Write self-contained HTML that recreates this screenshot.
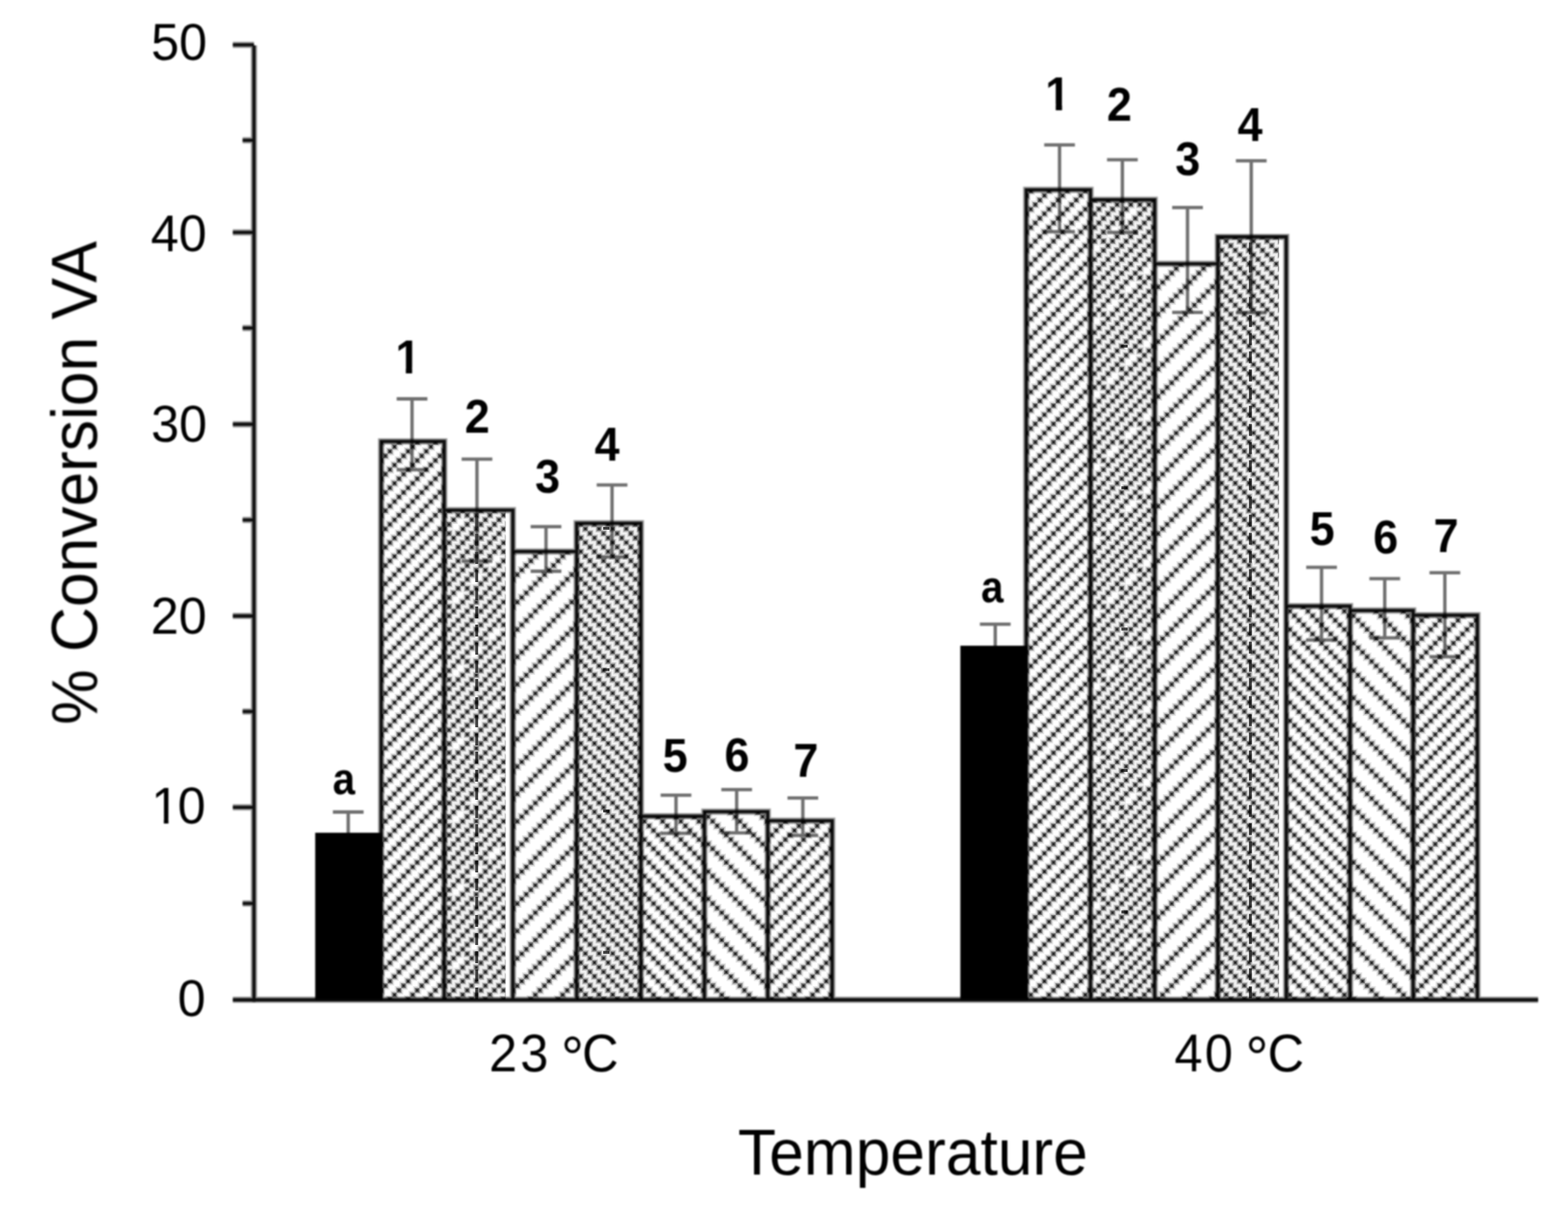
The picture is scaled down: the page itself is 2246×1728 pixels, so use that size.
<!DOCTYPE html>
<html lang="en"><head><meta charset="utf-8"><title>% Conversion VA vs Temperature</title>
<style>
html,body{margin:0;padding:0;background:#fff;width:2246px;height:1728px;overflow:hidden}
svg{display:block;position:absolute;left:0;top:0}
text{font-family:"Liberation Sans",sans-serif;fill:#000}
.tk{font-size:72px}
.ct{font-size:72.3px}
.dg{font-size:81.5px}
.ti{font-size:89.3px}
.lb{font-size:67px;font-weight:bold}
</style></head><body>
<svg width="2246" height="1728" viewBox="0 0 2246 1728">
<defs>
<filter id="soft" x="-2%" y="-2%" width="104%" height="104%"><feGaussianBlur stdDeviation="0.85"/></filter>
<filter id="softp" x="-2%" y="-2%" width="104%" height="104%"><feGaussianBlur stdDeviation="0.75"/></filter>
<filter id="softt" x="-2%" y="-2%" width="104%" height="104%"><feGaussianBlur stdDeviation="1.15"/></filter>
<pattern id="f4" patternUnits="userSpaceOnUse" width="26.04" height="26.18" x="1.95" y="2">
<path d="M3.58 -16.04h12.37v12.44h-12.37zM29.62 -16.04h12.37v12.44h-12.37zM-2.93 -9.49h12.37v12.44h-12.37zM23.11 -9.49h12.37v12.44h-12.37zM-9.44 -2.95h12.37v12.44h-12.37zM16.6 -2.95h12.37v12.44h-12.37zM-15.95 3.6h12.37v12.44h-12.37zM10.09 3.6h12.37v12.44h-12.37zM3.58 10.14h12.37v12.44h-12.37zM29.62 10.14h12.37v12.44h-12.37zM-2.93 16.69h12.37v12.44h-12.37zM23.11 16.69h12.37v12.44h-12.37zM-9.44 23.23h12.37v12.44h-12.37zM16.6 23.23h12.37v12.44h-12.37zM-15.95 29.78h12.37v12.44h-12.37zM10.09 29.78h12.37v12.44h-12.37z" fill="#000" fill-opacity="0.09"/>
<path d="M5.21 -14.4h9.11v9.16h-9.11zM31.25 -14.4h9.11v9.16h-9.11zM-1.3 -7.85h9.11v9.16h-9.11zM24.74 -7.85h9.11v9.16h-9.11zM-7.81 -1.31h9.11v9.16h-9.11zM18.23 -1.31h9.11v9.16h-9.11zM-14.32 5.24h9.11v9.16h-9.11zM11.72 5.24h9.11v9.16h-9.11zM5.21 11.78h9.11v9.16h-9.11zM31.25 11.78h9.11v9.16h-9.11zM-1.3 18.33h9.11v9.16h-9.11zM24.74 18.33h9.11v9.16h-9.11zM-7.81 24.87h9.11v9.16h-9.11zM18.23 24.87h9.11v9.16h-9.11zM-14.32 31.42h9.11v9.16h-9.11zM11.72 31.42h9.11v9.16h-9.11z" fill="#000" fill-opacity="0.2"/>
<path d="M6.51 -13.09h6.51v6.54h-6.51zM32.55 -13.09h6.51v6.54h-6.51zM0 -6.54h6.51v6.54h-6.51zM26.04 -6.54h6.51v6.54h-6.51zM-6.51 0h6.51v6.54h-6.51zM19.53 0h6.51v6.54h-6.51zM-13.02 6.54h6.51v6.54h-6.51zM13.02 6.54h6.51v6.54h-6.51zM6.51 13.09h6.51v6.54h-6.51zM32.55 13.09h6.51v6.54h-6.51zM0 19.63h6.51v6.54h-6.51zM26.04 19.63h6.51v6.54h-6.51zM-6.51 26.18h6.51v6.54h-6.51zM19.53 26.18h6.51v6.54h-6.51zM-13.02 32.73h6.51v6.54h-6.51zM13.02 32.73h6.51v6.54h-6.51z" fill="#000" fill-opacity="0.36"/>
<path d="M7.81 -11.78h3.91v3.93h-3.91zM33.85 -11.78h3.91v3.93h-3.91zM1.3 -5.24h3.91v3.93h-3.91zM27.34 -5.24h3.91v3.93h-3.91zM-5.21 1.31h3.91v3.93h-3.91zM20.83 1.31h3.91v3.93h-3.91zM-11.72 7.85h3.91v3.93h-3.91zM14.32 7.85h3.91v3.93h-3.91zM7.81 14.4h3.91v3.93h-3.91zM33.85 14.4h3.91v3.93h-3.91zM1.3 20.94h3.91v3.93h-3.91zM27.34 20.94h3.91v3.93h-3.91zM-5.21 27.49h3.91v3.93h-3.91zM20.83 27.49h3.91v3.93h-3.91zM-11.72 34.03h3.91v3.93h-3.91zM14.32 34.03h3.91v3.93h-3.91z" fill="#000" fill-opacity="0.5"/>
<path d="M8.79 -10.8h1.95v1.96h-1.95zM34.83 -10.8h1.95v1.96h-1.95zM2.28 -4.25h1.95v1.96h-1.95zM28.32 -4.25h1.95v1.96h-1.95zM-4.23 2.29h1.95v1.96h-1.95zM21.81 2.29h1.95v1.96h-1.95zM-10.74 8.84h1.95v1.96h-1.95zM15.3 8.84h1.95v1.96h-1.95zM8.79 15.38h1.95v1.96h-1.95zM34.83 15.38h1.95v1.96h-1.95zM2.28 21.93h1.95v1.96h-1.95zM28.32 21.93h1.95v1.96h-1.95zM-4.23 28.47h1.95v1.96h-1.95zM21.81 28.47h1.95v1.96h-1.95zM-10.74 35.02h1.95v1.96h-1.95zM15.3 35.02h1.95v1.96h-1.95z" fill="#000" fill-opacity="0.5"/>
</pattern>
<pattern id="f25" patternUnits="userSpaceOnUse" width="104.16" height="104.72" x="1.95" y="2">
<path d="M-2.93 -16.04h12.37v12.44h-12.37zM16.6 -16.04h12.37v12.44h-12.37zM36.13 -16.04h12.37v12.44h-12.37zM62.17 -16.04h12.37v12.44h-12.37zM81.7 -16.04h12.37v12.44h-12.37zM101.23 -16.04h12.37v12.44h-12.37zM-9.44 -9.49h12.37v12.44h-12.37zM10.09 -9.49h12.37v12.44h-12.37zM29.62 -9.49h12.37v12.44h-12.37zM55.66 -9.49h12.37v12.44h-12.37zM75.19 -9.49h12.37v12.44h-12.37zM94.72 -9.49h12.37v12.44h-12.37zM-15.95 -2.95h12.37v12.44h-12.37zM3.58 -2.95h12.37v12.44h-12.37zM23.11 -2.95h12.37v12.44h-12.37zM36.13 -2.95h12.37v12.44h-12.37zM49.15 -2.95h12.37v12.44h-12.37zM68.68 -2.95h12.37v12.44h-12.37zM88.21 -2.95h12.37v12.44h-12.37zM107.74 -2.95h12.37v12.44h-12.37zM-2.93 3.6h12.37v12.44h-12.37zM16.6 3.6h12.37v12.44h-12.37zM42.64 3.6h12.37v12.44h-12.37zM62.17 3.6h12.37v12.44h-12.37zM81.7 3.6h12.37v12.44h-12.37zM101.23 3.6h12.37v12.44h-12.37zM-9.44 10.14h12.37v12.44h-12.37zM10.09 10.14h12.37v12.44h-12.37zM36.13 10.14h12.37v12.44h-12.37zM55.66 10.14h12.37v12.44h-12.37zM75.19 10.14h12.37v12.44h-12.37zM94.72 10.14h12.37v12.44h-12.37zM-15.95 16.69h12.37v12.44h-12.37zM3.58 16.69h12.37v12.44h-12.37zM29.62 16.69h12.37v12.44h-12.37zM49.15 16.69h12.37v12.44h-12.37zM68.68 16.69h12.37v12.44h-12.37zM88.21 16.69h12.37v12.44h-12.37zM107.74 16.69h12.37v12.44h-12.37zM-2.93 23.23h12.37v12.44h-12.37zM10.09 23.23h12.37v12.44h-12.37zM23.11 23.23h12.37v12.44h-12.37zM42.64 23.23h12.37v12.44h-12.37zM62.17 23.23h12.37v12.44h-12.37zM81.7 23.23h12.37v12.44h-12.37zM101.23 23.23h12.37v12.44h-12.37zM-9.44 29.78h12.37v12.44h-12.37zM16.6 29.78h12.37v12.44h-12.37zM36.13 29.78h12.37v12.44h-12.37zM55.66 29.78h12.37v12.44h-12.37zM75.19 29.78h12.37v12.44h-12.37zM94.72 29.78h12.37v12.44h-12.37zM-15.95 36.32h12.37v12.44h-12.37zM10.09 36.32h12.37v12.44h-12.37zM29.62 36.32h12.37v12.44h-12.37zM49.15 36.32h12.37v12.44h-12.37zM68.68 36.32h12.37v12.44h-12.37zM88.21 36.32h12.37v12.44h-12.37zM3.58 42.87h12.37v12.44h-12.37zM23.11 42.87h12.37v12.44h-12.37zM42.64 42.87h12.37v12.44h-12.37zM62.17 42.87h12.37v12.44h-12.37zM81.7 42.87h12.37v12.44h-12.37zM107.74 42.87h12.37v12.44h-12.37zM-15.95 49.41h12.37v12.44h-12.37zM-2.93 49.41h12.37v12.44h-12.37zM16.6 49.41h12.37v12.44h-12.37zM36.13 49.41h12.37v12.44h-12.37zM55.66 49.41h12.37v12.44h-12.37zM75.19 49.41h12.37v12.44h-12.37zM88.21 49.41h12.37v12.44h-12.37zM101.23 49.41h12.37v12.44h-12.37zM-9.44 55.96h12.37v12.44h-12.37zM10.09 55.96h12.37v12.44h-12.37zM29.62 55.96h12.37v12.44h-12.37zM49.15 55.96h12.37v12.44h-12.37zM68.68 55.96h12.37v12.44h-12.37zM94.72 55.96h12.37v12.44h-12.37zM-15.95 62.5h12.37v12.44h-12.37zM3.58 62.5h12.37v12.44h-12.37zM23.11 62.5h12.37v12.44h-12.37zM42.64 62.5h12.37v12.44h-12.37zM62.17 62.5h12.37v12.44h-12.37zM88.21 62.5h12.37v12.44h-12.37zM107.74 62.5h12.37v12.44h-12.37zM-2.93 69.05h12.37v12.44h-12.37zM16.6 69.05h12.37v12.44h-12.37zM36.13 69.05h12.37v12.44h-12.37zM55.66 69.05h12.37v12.44h-12.37zM81.7 69.05h12.37v12.44h-12.37zM101.23 69.05h12.37v12.44h-12.37zM-9.44 75.59h12.37v12.44h-12.37zM10.09 75.59h12.37v12.44h-12.37zM29.62 75.59h12.37v12.44h-12.37zM49.15 75.59h12.37v12.44h-12.37zM62.17 75.59h12.37v12.44h-12.37zM75.19 75.59h12.37v12.44h-12.37zM94.72 75.59h12.37v12.44h-12.37zM-15.95 82.14h12.37v12.44h-12.37zM3.58 82.14h12.37v12.44h-12.37zM23.11 82.14h12.37v12.44h-12.37zM42.64 82.14h12.37v12.44h-12.37zM68.68 82.14h12.37v12.44h-12.37zM88.21 82.14h12.37v12.44h-12.37zM107.74 82.14h12.37v12.44h-12.37zM-2.93 88.68h12.37v12.44h-12.37zM16.6 88.68h12.37v12.44h-12.37zM36.13 88.68h12.37v12.44h-12.37zM62.17 88.68h12.37v12.44h-12.37zM81.7 88.68h12.37v12.44h-12.37zM101.23 88.68h12.37v12.44h-12.37zM-9.44 95.23h12.37v12.44h-12.37zM10.09 95.23h12.37v12.44h-12.37zM29.62 95.23h12.37v12.44h-12.37zM55.66 95.23h12.37v12.44h-12.37zM75.19 95.23h12.37v12.44h-12.37zM94.72 95.23h12.37v12.44h-12.37zM-15.95 101.77h12.37v12.44h-12.37zM3.58 101.77h12.37v12.44h-12.37zM23.11 101.77h12.37v12.44h-12.37zM36.13 101.77h12.37v12.44h-12.37zM49.15 101.77h12.37v12.44h-12.37zM68.68 101.77h12.37v12.44h-12.37zM88.21 101.77h12.37v12.44h-12.37zM107.74 101.77h12.37v12.44h-12.37zM-2.93 108.32h12.37v12.44h-12.37zM16.6 108.32h12.37v12.44h-12.37zM42.64 108.32h12.37v12.44h-12.37zM62.17 108.32h12.37v12.44h-12.37zM81.7 108.32h12.37v12.44h-12.37zM101.23 108.32h12.37v12.44h-12.37z" fill="#000" fill-opacity="0.09"/>
<path d="M-1.3 -14.4h9.11v9.16h-9.11zM18.23 -14.4h9.11v9.16h-9.11zM37.76 -14.4h9.11v9.16h-9.11zM63.8 -14.4h9.11v9.16h-9.11zM83.33 -14.4h9.11v9.16h-9.11zM102.86 -14.4h9.11v9.16h-9.11zM-7.81 -7.85h9.11v9.16h-9.11zM11.72 -7.85h9.11v9.16h-9.11zM31.25 -7.85h9.11v9.16h-9.11zM57.29 -7.85h9.11v9.16h-9.11zM76.82 -7.85h9.11v9.16h-9.11zM96.35 -7.85h9.11v9.16h-9.11zM-14.32 -1.31h9.11v9.16h-9.11zM5.21 -1.31h9.11v9.16h-9.11zM24.74 -1.31h9.11v9.16h-9.11zM37.76 -1.31h9.11v9.16h-9.11zM50.78 -1.31h9.11v9.16h-9.11zM70.31 -1.31h9.11v9.16h-9.11zM89.84 -1.31h9.11v9.16h-9.11zM109.37 -1.31h9.11v9.16h-9.11zM-1.3 5.24h9.11v9.16h-9.11zM18.23 5.24h9.11v9.16h-9.11zM44.27 5.24h9.11v9.16h-9.11zM63.8 5.24h9.11v9.16h-9.11zM83.33 5.24h9.11v9.16h-9.11zM102.86 5.24h9.11v9.16h-9.11zM-7.81 11.78h9.11v9.16h-9.11zM11.72 11.78h9.11v9.16h-9.11zM37.76 11.78h9.11v9.16h-9.11zM57.29 11.78h9.11v9.16h-9.11zM76.82 11.78h9.11v9.16h-9.11zM96.35 11.78h9.11v9.16h-9.11zM-14.32 18.33h9.11v9.16h-9.11zM5.21 18.33h9.11v9.16h-9.11zM31.25 18.33h9.11v9.16h-9.11zM50.78 18.33h9.11v9.16h-9.11zM70.31 18.33h9.11v9.16h-9.11zM89.84 18.33h9.11v9.16h-9.11zM109.37 18.33h9.11v9.16h-9.11zM-1.3 24.87h9.11v9.16h-9.11zM11.72 24.87h9.11v9.16h-9.11zM24.74 24.87h9.11v9.16h-9.11zM44.27 24.87h9.11v9.16h-9.11zM63.8 24.87h9.11v9.16h-9.11zM83.33 24.87h9.11v9.16h-9.11zM102.86 24.87h9.11v9.16h-9.11zM-7.81 31.42h9.11v9.16h-9.11zM18.23 31.42h9.11v9.16h-9.11zM37.76 31.42h9.11v9.16h-9.11zM57.29 31.42h9.11v9.16h-9.11zM76.82 31.42h9.11v9.16h-9.11zM96.35 31.42h9.11v9.16h-9.11zM-14.32 37.96h9.11v9.16h-9.11zM11.72 37.96h9.11v9.16h-9.11zM31.25 37.96h9.11v9.16h-9.11zM50.78 37.96h9.11v9.16h-9.11zM70.31 37.96h9.11v9.16h-9.11zM89.84 37.96h9.11v9.16h-9.11zM5.21 44.51h9.11v9.16h-9.11zM24.74 44.51h9.11v9.16h-9.11zM44.27 44.51h9.11v9.16h-9.11zM63.8 44.51h9.11v9.16h-9.11zM83.33 44.51h9.11v9.16h-9.11zM109.37 44.51h9.11v9.16h-9.11zM-14.32 51.05h9.11v9.16h-9.11zM-1.3 51.05h9.11v9.16h-9.11zM18.23 51.05h9.11v9.16h-9.11zM37.76 51.05h9.11v9.16h-9.11zM57.29 51.05h9.11v9.16h-9.11zM76.82 51.05h9.11v9.16h-9.11zM89.84 51.05h9.11v9.16h-9.11zM102.86 51.05h9.11v9.16h-9.11zM-7.81 57.6h9.11v9.16h-9.11zM11.72 57.6h9.11v9.16h-9.11zM31.25 57.6h9.11v9.16h-9.11zM50.78 57.6h9.11v9.16h-9.11zM70.31 57.6h9.11v9.16h-9.11zM96.35 57.6h9.11v9.16h-9.11zM-14.32 64.14h9.11v9.16h-9.11zM5.21 64.14h9.11v9.16h-9.11zM24.74 64.14h9.11v9.16h-9.11zM44.27 64.14h9.11v9.16h-9.11zM63.8 64.14h9.11v9.16h-9.11zM89.84 64.14h9.11v9.16h-9.11zM109.37 64.14h9.11v9.16h-9.11zM-1.3 70.69h9.11v9.16h-9.11zM18.23 70.69h9.11v9.16h-9.11zM37.76 70.69h9.11v9.16h-9.11zM57.29 70.69h9.11v9.16h-9.11zM83.33 70.69h9.11v9.16h-9.11zM102.86 70.69h9.11v9.16h-9.11zM-7.81 77.23h9.11v9.16h-9.11zM11.72 77.23h9.11v9.16h-9.11zM31.25 77.23h9.11v9.16h-9.11zM50.78 77.23h9.11v9.16h-9.11zM63.8 77.23h9.11v9.16h-9.11zM76.82 77.23h9.11v9.16h-9.11zM96.35 77.23h9.11v9.16h-9.11zM-14.32 83.78h9.11v9.16h-9.11zM5.21 83.78h9.11v9.16h-9.11zM24.74 83.78h9.11v9.16h-9.11zM44.27 83.78h9.11v9.16h-9.11zM70.31 83.78h9.11v9.16h-9.11zM89.84 83.78h9.11v9.16h-9.11zM109.37 83.78h9.11v9.16h-9.11zM-1.3 90.32h9.11v9.16h-9.11zM18.23 90.32h9.11v9.16h-9.11zM37.76 90.32h9.11v9.16h-9.11zM63.8 90.32h9.11v9.16h-9.11zM83.33 90.32h9.11v9.16h-9.11zM102.86 90.32h9.11v9.16h-9.11zM-7.81 96.87h9.11v9.16h-9.11zM11.72 96.87h9.11v9.16h-9.11zM31.25 96.87h9.11v9.16h-9.11zM57.29 96.87h9.11v9.16h-9.11zM76.82 96.87h9.11v9.16h-9.11zM96.35 96.87h9.11v9.16h-9.11zM-14.32 103.41h9.11v9.16h-9.11zM5.21 103.41h9.11v9.16h-9.11zM24.74 103.41h9.11v9.16h-9.11zM37.76 103.41h9.11v9.16h-9.11zM50.78 103.41h9.11v9.16h-9.11zM70.31 103.41h9.11v9.16h-9.11zM89.84 103.41h9.11v9.16h-9.11zM109.37 103.41h9.11v9.16h-9.11zM-1.3 109.96h9.11v9.16h-9.11zM18.23 109.96h9.11v9.16h-9.11zM44.27 109.96h9.11v9.16h-9.11zM63.8 109.96h9.11v9.16h-9.11zM83.33 109.96h9.11v9.16h-9.11zM102.86 109.96h9.11v9.16h-9.11z" fill="#000" fill-opacity="0.2"/>
<path d="M0 -13.09h6.51v6.54h-6.51zM19.53 -13.09h6.51v6.54h-6.51zM39.06 -13.09h6.51v6.54h-6.51zM65.1 -13.09h6.51v6.54h-6.51zM84.63 -13.09h6.51v6.54h-6.51zM104.16 -13.09h6.51v6.54h-6.51zM-6.51 -6.54h6.51v6.54h-6.51zM13.02 -6.54h6.51v6.54h-6.51zM32.55 -6.54h6.51v6.54h-6.51zM58.59 -6.54h6.51v6.54h-6.51zM78.12 -6.54h6.51v6.54h-6.51zM97.65 -6.54h6.51v6.54h-6.51zM-13.02 0h6.51v6.54h-6.51zM6.51 0h6.51v6.54h-6.51zM26.04 0h6.51v6.54h-6.51zM39.06 0h6.51v6.54h-6.51zM52.08 0h6.51v6.54h-6.51zM71.61 0h6.51v6.54h-6.51zM91.14 0h6.51v6.54h-6.51zM110.67 0h6.51v6.54h-6.51zM0 6.54h6.51v6.54h-6.51zM19.53 6.54h6.51v6.54h-6.51zM45.57 6.54h6.51v6.54h-6.51zM65.1 6.54h6.51v6.54h-6.51zM84.63 6.54h6.51v6.54h-6.51zM104.16 6.54h6.51v6.54h-6.51zM-6.51 13.09h6.51v6.54h-6.51zM13.02 13.09h6.51v6.54h-6.51zM39.06 13.09h6.51v6.54h-6.51zM58.59 13.09h6.51v6.54h-6.51zM78.12 13.09h6.51v6.54h-6.51zM97.65 13.09h6.51v6.54h-6.51zM-13.02 19.63h6.51v6.54h-6.51zM6.51 19.63h6.51v6.54h-6.51zM32.55 19.63h6.51v6.54h-6.51zM52.08 19.63h6.51v6.54h-6.51zM71.61 19.63h6.51v6.54h-6.51zM91.14 19.63h6.51v6.54h-6.51zM110.67 19.63h6.51v6.54h-6.51zM0 26.18h6.51v6.54h-6.51zM13.02 26.18h6.51v6.54h-6.51zM26.04 26.18h6.51v6.54h-6.51zM45.57 26.18h6.51v6.54h-6.51zM65.1 26.18h6.51v6.54h-6.51zM84.63 26.18h6.51v6.54h-6.51zM104.16 26.18h6.51v6.54h-6.51zM-6.51 32.73h6.51v6.54h-6.51zM19.53 32.73h6.51v6.54h-6.51zM39.06 32.73h6.51v6.54h-6.51zM58.59 32.73h6.51v6.54h-6.51zM78.12 32.73h6.51v6.54h-6.51zM97.65 32.73h6.51v6.54h-6.51zM-13.02 39.27h6.51v6.54h-6.51zM13.02 39.27h6.51v6.54h-6.51zM32.55 39.27h6.51v6.54h-6.51zM52.08 39.27h6.51v6.54h-6.51zM71.61 39.27h6.51v6.54h-6.51zM91.14 39.27h6.51v6.54h-6.51zM6.51 45.81h6.51v6.54h-6.51zM26.04 45.81h6.51v6.54h-6.51zM45.57 45.81h6.51v6.54h-6.51zM65.1 45.81h6.51v6.54h-6.51zM84.63 45.81h6.51v6.54h-6.51zM110.67 45.81h6.51v6.54h-6.51zM-13.02 52.36h6.51v6.54h-6.51zM0 52.36h6.51v6.54h-6.51zM19.53 52.36h6.51v6.54h-6.51zM39.06 52.36h6.51v6.54h-6.51zM58.59 52.36h6.51v6.54h-6.51zM78.12 52.36h6.51v6.54h-6.51zM91.14 52.36h6.51v6.54h-6.51zM104.16 52.36h6.51v6.54h-6.51zM-6.51 58.91h6.51v6.54h-6.51zM13.02 58.91h6.51v6.54h-6.51zM32.55 58.91h6.51v6.54h-6.51zM52.08 58.91h6.51v6.54h-6.51zM71.61 58.91h6.51v6.54h-6.51zM97.65 58.91h6.51v6.54h-6.51zM-13.02 65.45h6.51v6.54h-6.51zM6.51 65.45h6.51v6.54h-6.51zM26.04 65.45h6.51v6.54h-6.51zM45.57 65.45h6.51v6.54h-6.51zM65.1 65.45h6.51v6.54h-6.51zM91.14 65.45h6.51v6.54h-6.51zM110.67 65.45h6.51v6.54h-6.51zM0 72h6.51v6.54h-6.51zM19.53 72h6.51v6.54h-6.51zM39.06 72h6.51v6.54h-6.51zM58.59 72h6.51v6.54h-6.51zM84.63 72h6.51v6.54h-6.51zM104.16 72h6.51v6.54h-6.51zM-6.51 78.54h6.51v6.54h-6.51zM13.02 78.54h6.51v6.54h-6.51zM32.55 78.54h6.51v6.54h-6.51zM52.08 78.54h6.51v6.54h-6.51zM65.1 78.54h6.51v6.54h-6.51zM78.12 78.54h6.51v6.54h-6.51zM97.65 78.54h6.51v6.54h-6.51zM-13.02 85.09h6.51v6.54h-6.51zM6.51 85.09h6.51v6.54h-6.51zM26.04 85.09h6.51v6.54h-6.51zM45.57 85.09h6.51v6.54h-6.51zM71.61 85.09h6.51v6.54h-6.51zM91.14 85.09h6.51v6.54h-6.51zM110.67 85.09h6.51v6.54h-6.51zM0 91.63h6.51v6.54h-6.51zM19.53 91.63h6.51v6.54h-6.51zM39.06 91.63h6.51v6.54h-6.51zM65.1 91.63h6.51v6.54h-6.51zM84.63 91.63h6.51v6.54h-6.51zM104.16 91.63h6.51v6.54h-6.51zM-6.51 98.18h6.51v6.54h-6.51zM13.02 98.18h6.51v6.54h-6.51zM32.55 98.18h6.51v6.54h-6.51zM58.59 98.18h6.51v6.54h-6.51zM78.12 98.18h6.51v6.54h-6.51zM97.65 98.18h6.51v6.54h-6.51zM-13.02 104.72h6.51v6.54h-6.51zM6.51 104.72h6.51v6.54h-6.51zM26.04 104.72h6.51v6.54h-6.51zM39.06 104.72h6.51v6.54h-6.51zM52.08 104.72h6.51v6.54h-6.51zM71.61 104.72h6.51v6.54h-6.51zM91.14 104.72h6.51v6.54h-6.51zM110.67 104.72h6.51v6.54h-6.51zM0 111.27h6.51v6.54h-6.51zM19.53 111.27h6.51v6.54h-6.51zM45.57 111.27h6.51v6.54h-6.51zM65.1 111.27h6.51v6.54h-6.51zM84.63 111.27h6.51v6.54h-6.51zM104.16 111.27h6.51v6.54h-6.51z" fill="#000" fill-opacity="0.36"/>
<path d="M1.3 -11.78h3.91v3.93h-3.91zM20.83 -11.78h3.91v3.93h-3.91zM40.36 -11.78h3.91v3.93h-3.91zM66.4 -11.78h3.91v3.93h-3.91zM85.93 -11.78h3.91v3.93h-3.91zM105.46 -11.78h3.91v3.93h-3.91zM-5.21 -5.24h3.91v3.93h-3.91zM14.32 -5.24h3.91v3.93h-3.91zM33.85 -5.24h3.91v3.93h-3.91zM59.89 -5.24h3.91v3.93h-3.91zM79.42 -5.24h3.91v3.93h-3.91zM98.95 -5.24h3.91v3.93h-3.91zM-11.72 1.31h3.91v3.93h-3.91zM7.81 1.31h3.91v3.93h-3.91zM27.34 1.31h3.91v3.93h-3.91zM40.36 1.31h3.91v3.93h-3.91zM53.38 1.31h3.91v3.93h-3.91zM72.91 1.31h3.91v3.93h-3.91zM92.44 1.31h3.91v3.93h-3.91zM111.97 1.31h3.91v3.93h-3.91zM1.3 7.85h3.91v3.93h-3.91zM20.83 7.85h3.91v3.93h-3.91zM46.87 7.85h3.91v3.93h-3.91zM66.4 7.85h3.91v3.93h-3.91zM85.93 7.85h3.91v3.93h-3.91zM105.46 7.85h3.91v3.93h-3.91zM-5.21 14.4h3.91v3.93h-3.91zM14.32 14.4h3.91v3.93h-3.91zM40.36 14.4h3.91v3.93h-3.91zM59.89 14.4h3.91v3.93h-3.91zM79.42 14.4h3.91v3.93h-3.91zM98.95 14.4h3.91v3.93h-3.91zM-11.72 20.94h3.91v3.93h-3.91zM7.81 20.94h3.91v3.93h-3.91zM33.85 20.94h3.91v3.93h-3.91zM53.38 20.94h3.91v3.93h-3.91zM72.91 20.94h3.91v3.93h-3.91zM92.44 20.94h3.91v3.93h-3.91zM111.97 20.94h3.91v3.93h-3.91zM1.3 27.49h3.91v3.93h-3.91zM14.32 27.49h3.91v3.93h-3.91zM27.34 27.49h3.91v3.93h-3.91zM46.87 27.49h3.91v3.93h-3.91zM66.4 27.49h3.91v3.93h-3.91zM85.93 27.49h3.91v3.93h-3.91zM105.46 27.49h3.91v3.93h-3.91zM-5.21 34.03h3.91v3.93h-3.91zM20.83 34.03h3.91v3.93h-3.91zM40.36 34.03h3.91v3.93h-3.91zM59.89 34.03h3.91v3.93h-3.91zM79.42 34.03h3.91v3.93h-3.91zM98.95 34.03h3.91v3.93h-3.91zM-11.72 40.58h3.91v3.93h-3.91zM14.32 40.58h3.91v3.93h-3.91zM33.85 40.58h3.91v3.93h-3.91zM53.38 40.58h3.91v3.93h-3.91zM72.91 40.58h3.91v3.93h-3.91zM92.44 40.58h3.91v3.93h-3.91zM7.81 47.12h3.91v3.93h-3.91zM27.34 47.12h3.91v3.93h-3.91zM46.87 47.12h3.91v3.93h-3.91zM66.4 47.12h3.91v3.93h-3.91zM85.93 47.12h3.91v3.93h-3.91zM111.97 47.12h3.91v3.93h-3.91zM-11.72 53.67h3.91v3.93h-3.91zM1.3 53.67h3.91v3.93h-3.91zM20.83 53.67h3.91v3.93h-3.91zM40.36 53.67h3.91v3.93h-3.91zM59.89 53.67h3.91v3.93h-3.91zM79.42 53.67h3.91v3.93h-3.91zM92.44 53.67h3.91v3.93h-3.91zM105.46 53.67h3.91v3.93h-3.91zM-5.21 60.21h3.91v3.93h-3.91zM14.32 60.21h3.91v3.93h-3.91zM33.85 60.21h3.91v3.93h-3.91zM53.38 60.21h3.91v3.93h-3.91zM72.91 60.21h3.91v3.93h-3.91zM98.95 60.21h3.91v3.93h-3.91zM-11.72 66.76h3.91v3.93h-3.91zM7.81 66.76h3.91v3.93h-3.91zM27.34 66.76h3.91v3.93h-3.91zM46.87 66.76h3.91v3.93h-3.91zM66.4 66.76h3.91v3.93h-3.91zM92.44 66.76h3.91v3.93h-3.91zM111.97 66.76h3.91v3.93h-3.91zM1.3 73.3h3.91v3.93h-3.91zM20.83 73.3h3.91v3.93h-3.91zM40.36 73.3h3.91v3.93h-3.91zM59.89 73.3h3.91v3.93h-3.91zM85.93 73.3h3.91v3.93h-3.91zM105.46 73.3h3.91v3.93h-3.91zM-5.21 79.85h3.91v3.93h-3.91zM14.32 79.85h3.91v3.93h-3.91zM33.85 79.85h3.91v3.93h-3.91zM53.38 79.85h3.91v3.93h-3.91zM66.4 79.85h3.91v3.93h-3.91zM79.42 79.85h3.91v3.93h-3.91zM98.95 79.85h3.91v3.93h-3.91zM-11.72 86.39h3.91v3.93h-3.91zM7.81 86.39h3.91v3.93h-3.91zM27.34 86.39h3.91v3.93h-3.91zM46.87 86.39h3.91v3.93h-3.91zM72.91 86.39h3.91v3.93h-3.91zM92.44 86.39h3.91v3.93h-3.91zM111.97 86.39h3.91v3.93h-3.91zM1.3 92.94h3.91v3.93h-3.91zM20.83 92.94h3.91v3.93h-3.91zM40.36 92.94h3.91v3.93h-3.91zM66.4 92.94h3.91v3.93h-3.91zM85.93 92.94h3.91v3.93h-3.91zM105.46 92.94h3.91v3.93h-3.91zM-5.21 99.48h3.91v3.93h-3.91zM14.32 99.48h3.91v3.93h-3.91zM33.85 99.48h3.91v3.93h-3.91zM59.89 99.48h3.91v3.93h-3.91zM79.42 99.48h3.91v3.93h-3.91zM98.95 99.48h3.91v3.93h-3.91zM-11.72 106.03h3.91v3.93h-3.91zM7.81 106.03h3.91v3.93h-3.91zM27.34 106.03h3.91v3.93h-3.91zM40.36 106.03h3.91v3.93h-3.91zM53.38 106.03h3.91v3.93h-3.91zM72.91 106.03h3.91v3.93h-3.91zM92.44 106.03h3.91v3.93h-3.91zM111.97 106.03h3.91v3.93h-3.91zM1.3 112.57h3.91v3.93h-3.91zM20.83 112.57h3.91v3.93h-3.91zM46.87 112.57h3.91v3.93h-3.91zM66.4 112.57h3.91v3.93h-3.91zM85.93 112.57h3.91v3.93h-3.91zM105.46 112.57h3.91v3.93h-3.91z" fill="#000" fill-opacity="0.5"/>
<path d="M2.28 -10.8h1.95v1.96h-1.95zM21.81 -10.8h1.95v1.96h-1.95zM41.34 -10.8h1.95v1.96h-1.95zM67.38 -10.8h1.95v1.96h-1.95zM86.91 -10.8h1.95v1.96h-1.95zM106.44 -10.8h1.95v1.96h-1.95zM-4.23 -4.25h1.95v1.96h-1.95zM15.3 -4.25h1.95v1.96h-1.95zM34.83 -4.25h1.95v1.96h-1.95zM60.87 -4.25h1.95v1.96h-1.95zM80.4 -4.25h1.95v1.96h-1.95zM99.93 -4.25h1.95v1.96h-1.95zM-10.74 2.29h1.95v1.96h-1.95zM8.79 2.29h1.95v1.96h-1.95zM28.32 2.29h1.95v1.96h-1.95zM41.34 2.29h1.95v1.96h-1.95zM54.36 2.29h1.95v1.96h-1.95zM73.89 2.29h1.95v1.96h-1.95zM93.42 2.29h1.95v1.96h-1.95zM112.95 2.29h1.95v1.96h-1.95zM2.28 8.84h1.95v1.96h-1.95zM21.81 8.84h1.95v1.96h-1.95zM47.85 8.84h1.95v1.96h-1.95zM67.38 8.84h1.95v1.96h-1.95zM86.91 8.84h1.95v1.96h-1.95zM106.44 8.84h1.95v1.96h-1.95zM-4.23 15.38h1.95v1.96h-1.95zM15.3 15.38h1.95v1.96h-1.95zM41.34 15.38h1.95v1.96h-1.95zM60.87 15.38h1.95v1.96h-1.95zM80.4 15.38h1.95v1.96h-1.95zM99.93 15.38h1.95v1.96h-1.95zM-10.74 21.93h1.95v1.96h-1.95zM8.79 21.93h1.95v1.96h-1.95zM34.83 21.93h1.95v1.96h-1.95zM54.36 21.93h1.95v1.96h-1.95zM73.89 21.93h1.95v1.96h-1.95zM93.42 21.93h1.95v1.96h-1.95zM112.95 21.93h1.95v1.96h-1.95zM2.28 28.47h1.95v1.96h-1.95zM15.3 28.47h1.95v1.96h-1.95zM28.32 28.47h1.95v1.96h-1.95zM47.85 28.47h1.95v1.96h-1.95zM67.38 28.47h1.95v1.96h-1.95zM86.91 28.47h1.95v1.96h-1.95zM106.44 28.47h1.95v1.96h-1.95zM-4.23 35.02h1.95v1.96h-1.95zM21.81 35.02h1.95v1.96h-1.95zM41.34 35.02h1.95v1.96h-1.95zM60.87 35.02h1.95v1.96h-1.95zM80.4 35.02h1.95v1.96h-1.95zM99.93 35.02h1.95v1.96h-1.95zM-10.74 41.56h1.95v1.96h-1.95zM15.3 41.56h1.95v1.96h-1.95zM34.83 41.56h1.95v1.96h-1.95zM54.36 41.56h1.95v1.96h-1.95zM73.89 41.56h1.95v1.96h-1.95zM93.42 41.56h1.95v1.96h-1.95zM8.79 48.11h1.95v1.96h-1.95zM28.32 48.11h1.95v1.96h-1.95zM47.85 48.11h1.95v1.96h-1.95zM67.38 48.11h1.95v1.96h-1.95zM86.91 48.11h1.95v1.96h-1.95zM112.95 48.11h1.95v1.96h-1.95zM-10.74 54.65h1.95v1.96h-1.95zM2.28 54.65h1.95v1.96h-1.95zM21.81 54.65h1.95v1.96h-1.95zM41.34 54.65h1.95v1.96h-1.95zM60.87 54.65h1.95v1.96h-1.95zM80.4 54.65h1.95v1.96h-1.95zM93.42 54.65h1.95v1.96h-1.95zM106.44 54.65h1.95v1.96h-1.95zM-4.23 61.2h1.95v1.96h-1.95zM15.3 61.2h1.95v1.96h-1.95zM34.83 61.2h1.95v1.96h-1.95zM54.36 61.2h1.95v1.96h-1.95zM73.89 61.2h1.95v1.96h-1.95zM99.93 61.2h1.95v1.96h-1.95zM-10.74 67.74h1.95v1.96h-1.95zM8.79 67.74h1.95v1.96h-1.95zM28.32 67.74h1.95v1.96h-1.95zM47.85 67.74h1.95v1.96h-1.95zM67.38 67.74h1.95v1.96h-1.95zM93.42 67.74h1.95v1.96h-1.95zM112.95 67.74h1.95v1.96h-1.95zM2.28 74.29h1.95v1.96h-1.95zM21.81 74.29h1.95v1.96h-1.95zM41.34 74.29h1.95v1.96h-1.95zM60.87 74.29h1.95v1.96h-1.95zM86.91 74.29h1.95v1.96h-1.95zM106.44 74.29h1.95v1.96h-1.95zM-4.23 80.83h1.95v1.96h-1.95zM15.3 80.83h1.95v1.96h-1.95zM34.83 80.83h1.95v1.96h-1.95zM54.36 80.83h1.95v1.96h-1.95zM67.38 80.83h1.95v1.96h-1.95zM80.4 80.83h1.95v1.96h-1.95zM99.93 80.83h1.95v1.96h-1.95zM-10.74 87.38h1.95v1.96h-1.95zM8.79 87.38h1.95v1.96h-1.95zM28.32 87.38h1.95v1.96h-1.95zM47.85 87.38h1.95v1.96h-1.95zM73.89 87.38h1.95v1.96h-1.95zM93.42 87.38h1.95v1.96h-1.95zM112.95 87.38h1.95v1.96h-1.95zM2.28 93.92h1.95v1.96h-1.95zM21.81 93.92h1.95v1.96h-1.95zM41.34 93.92h1.95v1.96h-1.95zM67.38 93.92h1.95v1.96h-1.95zM86.91 93.92h1.95v1.96h-1.95zM106.44 93.92h1.95v1.96h-1.95zM-4.23 100.47h1.95v1.96h-1.95zM15.3 100.47h1.95v1.96h-1.95zM34.83 100.47h1.95v1.96h-1.95zM60.87 100.47h1.95v1.96h-1.95zM80.4 100.47h1.95v1.96h-1.95zM99.93 100.47h1.95v1.96h-1.95zM-10.74 107.01h1.95v1.96h-1.95zM8.79 107.01h1.95v1.96h-1.95zM28.32 107.01h1.95v1.96h-1.95zM41.34 107.01h1.95v1.96h-1.95zM54.36 107.01h1.95v1.96h-1.95zM73.89 107.01h1.95v1.96h-1.95zM93.42 107.01h1.95v1.96h-1.95zM112.95 107.01h1.95v1.96h-1.95zM2.28 113.56h1.95v1.96h-1.95zM21.81 113.56h1.95v1.96h-1.95zM47.85 113.56h1.95v1.96h-1.95zM67.38 113.56h1.95v1.96h-1.95zM86.91 113.56h1.95v1.96h-1.95zM106.44 113.56h1.95v1.96h-1.95z" fill="#000" fill-opacity="0.5"/>
</pattern>
<pattern id="f6" patternUnits="userSpaceOnUse" width="39.06" height="39.27" x="1.95" y="2">
<path d="M-2.93 -16.04h12.37v12.44h-12.37zM36.13 -16.04h12.37v12.44h-12.37zM-9.44 -9.49h12.37v12.44h-12.37zM29.62 -9.49h12.37v12.44h-12.37zM-15.95 -2.95h12.37v12.44h-12.37zM23.11 -2.95h12.37v12.44h-12.37zM16.6 3.6h12.37v12.44h-12.37zM10.09 10.14h12.37v12.44h-12.37zM3.58 16.69h12.37v12.44h-12.37zM42.64 16.69h12.37v12.44h-12.37zM-2.93 23.23h12.37v12.44h-12.37zM36.13 23.23h12.37v12.44h-12.37zM-9.44 29.78h12.37v12.44h-12.37zM29.62 29.78h12.37v12.44h-12.37zM-15.95 36.32h12.37v12.44h-12.37zM23.11 36.32h12.37v12.44h-12.37zM16.6 42.87h12.37v12.44h-12.37z" fill="#000" fill-opacity="0.09"/>
<path d="M-1.3 -14.4h9.11v9.16h-9.11zM37.76 -14.4h9.11v9.16h-9.11zM-7.81 -7.85h9.11v9.16h-9.11zM31.25 -7.85h9.11v9.16h-9.11zM-14.32 -1.31h9.11v9.16h-9.11zM24.74 -1.31h9.11v9.16h-9.11zM18.23 5.24h9.11v9.16h-9.11zM11.72 11.78h9.11v9.16h-9.11zM5.21 18.33h9.11v9.16h-9.11zM44.27 18.33h9.11v9.16h-9.11zM-1.3 24.87h9.11v9.16h-9.11zM37.76 24.87h9.11v9.16h-9.11zM-7.81 31.42h9.11v9.16h-9.11zM31.25 31.42h9.11v9.16h-9.11zM-14.32 37.96h9.11v9.16h-9.11zM24.74 37.96h9.11v9.16h-9.11zM18.23 44.51h9.11v9.16h-9.11z" fill="#000" fill-opacity="0.2"/>
<path d="M0 -13.09h6.51v6.54h-6.51zM39.06 -13.09h6.51v6.54h-6.51zM-6.51 -6.54h6.51v6.54h-6.51zM32.55 -6.54h6.51v6.54h-6.51zM-13.02 0h6.51v6.54h-6.51zM26.04 0h6.51v6.54h-6.51zM19.53 6.54h6.51v6.54h-6.51zM13.02 13.09h6.51v6.54h-6.51zM6.51 19.63h6.51v6.54h-6.51zM45.57 19.63h6.51v6.54h-6.51zM0 26.18h6.51v6.54h-6.51zM39.06 26.18h6.51v6.54h-6.51zM-6.51 32.73h6.51v6.54h-6.51zM32.55 32.73h6.51v6.54h-6.51zM-13.02 39.27h6.51v6.54h-6.51zM26.04 39.27h6.51v6.54h-6.51zM19.53 45.81h6.51v6.54h-6.51z" fill="#000" fill-opacity="0.36"/>
<path d="M1.3 -11.78h3.91v3.93h-3.91zM40.36 -11.78h3.91v3.93h-3.91zM-5.21 -5.24h3.91v3.93h-3.91zM33.85 -5.24h3.91v3.93h-3.91zM-11.72 1.31h3.91v3.93h-3.91zM27.34 1.31h3.91v3.93h-3.91zM20.83 7.85h3.91v3.93h-3.91zM14.32 14.4h3.91v3.93h-3.91zM7.81 20.94h3.91v3.93h-3.91zM46.87 20.94h3.91v3.93h-3.91zM1.3 27.49h3.91v3.93h-3.91zM40.36 27.49h3.91v3.93h-3.91zM-5.21 34.03h3.91v3.93h-3.91zM33.85 34.03h3.91v3.93h-3.91zM-11.72 40.58h3.91v3.93h-3.91zM27.34 40.58h3.91v3.93h-3.91zM20.83 47.12h3.91v3.93h-3.91z" fill="#000" fill-opacity="0.5"/>
<path d="M2.28 -10.8h1.95v1.96h-1.95zM41.34 -10.8h1.95v1.96h-1.95zM-4.23 -4.25h1.95v1.96h-1.95zM34.83 -4.25h1.95v1.96h-1.95zM-10.74 2.29h1.95v1.96h-1.95zM28.32 2.29h1.95v1.96h-1.95zM21.81 8.84h1.95v1.96h-1.95zM15.3 15.38h1.95v1.96h-1.95zM8.79 21.93h1.95v1.96h-1.95zM47.85 21.93h1.95v1.96h-1.95zM2.28 28.47h1.95v1.96h-1.95zM41.34 28.47h1.95v1.96h-1.95zM-4.23 35.02h1.95v1.96h-1.95zM34.83 35.02h1.95v1.96h-1.95zM-10.74 41.56h1.95v1.96h-1.95zM28.32 41.56h1.95v1.96h-1.95zM21.81 48.11h1.95v1.96h-1.95z" fill="#000" fill-opacity="0.5"/>
</pattern>
<pattern id="b3" patternUnits="userSpaceOnUse" width="19.53" height="19.63" x="1.95" y="2">
<path d="M-9.44 -16.04h12.37v12.44h-12.37zM10.09 -16.04h12.37v12.44h-12.37zM-2.93 -9.49h12.37v12.44h-12.37zM16.6 -9.49h12.37v12.44h-12.37zM-15.95 -2.95h12.37v12.44h-12.37zM3.58 -2.95h12.37v12.44h-12.37zM23.11 -2.95h12.37v12.44h-12.37zM-9.44 3.6h12.37v12.44h-12.37zM10.09 3.6h12.37v12.44h-12.37zM-2.93 10.14h12.37v12.44h-12.37zM16.6 10.14h12.37v12.44h-12.37zM-15.95 16.69h12.37v12.44h-12.37zM3.58 16.69h12.37v12.44h-12.37zM23.11 16.69h12.37v12.44h-12.37zM-9.44 23.23h12.37v12.44h-12.37zM10.09 23.23h12.37v12.44h-12.37z" fill="#000" fill-opacity="0.09"/>
<path d="M-7.81 -14.4h9.11v9.16h-9.11zM11.72 -14.4h9.11v9.16h-9.11zM-1.3 -7.85h9.11v9.16h-9.11zM18.23 -7.85h9.11v9.16h-9.11zM-14.32 -1.31h9.11v9.16h-9.11zM5.21 -1.31h9.11v9.16h-9.11zM24.74 -1.31h9.11v9.16h-9.11zM-7.81 5.24h9.11v9.16h-9.11zM11.72 5.24h9.11v9.16h-9.11zM-1.3 11.78h9.11v9.16h-9.11zM18.23 11.78h9.11v9.16h-9.11zM-14.32 18.33h9.11v9.16h-9.11zM5.21 18.33h9.11v9.16h-9.11zM24.74 18.33h9.11v9.16h-9.11zM-7.81 24.87h9.11v9.16h-9.11zM11.72 24.87h9.11v9.16h-9.11z" fill="#000" fill-opacity="0.2"/>
<path d="M-6.51 -13.09h6.51v6.54h-6.51zM13.02 -13.09h6.51v6.54h-6.51zM0 -6.54h6.51v6.54h-6.51zM19.53 -6.54h6.51v6.54h-6.51zM-13.02 0h6.51v6.54h-6.51zM6.51 0h6.51v6.54h-6.51zM26.04 0h6.51v6.54h-6.51zM-6.51 6.54h6.51v6.54h-6.51zM13.02 6.54h6.51v6.54h-6.51zM0 13.09h6.51v6.54h-6.51zM19.53 13.09h6.51v6.54h-6.51zM-13.02 19.63h6.51v6.54h-6.51zM6.51 19.63h6.51v6.54h-6.51zM26.04 19.63h6.51v6.54h-6.51zM-6.51 26.18h6.51v6.54h-6.51zM13.02 26.18h6.51v6.54h-6.51z" fill="#000" fill-opacity="0.36"/>
<path d="M-5.21 -11.78h3.91v3.93h-3.91zM14.32 -11.78h3.91v3.93h-3.91zM1.3 -5.24h3.91v3.93h-3.91zM20.83 -5.24h3.91v3.93h-3.91zM-11.72 1.31h3.91v3.93h-3.91zM7.81 1.31h3.91v3.93h-3.91zM27.34 1.31h3.91v3.93h-3.91zM-5.21 7.85h3.91v3.93h-3.91zM14.32 7.85h3.91v3.93h-3.91zM1.3 14.4h3.91v3.93h-3.91zM20.83 14.4h3.91v3.93h-3.91zM-11.72 20.94h3.91v3.93h-3.91zM7.81 20.94h3.91v3.93h-3.91zM27.34 20.94h3.91v3.93h-3.91zM-5.21 27.49h3.91v3.93h-3.91zM14.32 27.49h3.91v3.93h-3.91z" fill="#000" fill-opacity="0.5"/>
<path d="M-4.23 -10.8h1.95v1.96h-1.95zM15.3 -10.8h1.95v1.96h-1.95zM2.28 -4.25h1.95v1.96h-1.95zM21.81 -4.25h1.95v1.96h-1.95zM-10.74 2.29h1.95v1.96h-1.95zM8.79 2.29h1.95v1.96h-1.95zM28.32 2.29h1.95v1.96h-1.95zM-4.23 8.84h1.95v1.96h-1.95zM15.3 8.84h1.95v1.96h-1.95zM2.28 15.38h1.95v1.96h-1.95zM21.81 15.38h1.95v1.96h-1.95zM-10.74 21.93h1.95v1.96h-1.95zM8.79 21.93h1.95v1.96h-1.95zM28.32 21.93h1.95v1.96h-1.95zM-4.23 28.47h1.95v1.96h-1.95zM15.3 28.47h1.95v1.96h-1.95z" fill="#000" fill-opacity="0.5"/>
</pattern>
<pattern id="b4" patternUnits="userSpaceOnUse" width="26.04" height="26.18" x="1.95" y="2">
<path d="M-2.93 -16.04h12.37v12.44h-12.37zM23.11 -16.04h12.37v12.44h-12.37zM3.58 -9.49h12.37v12.44h-12.37zM29.62 -9.49h12.37v12.44h-12.37zM-15.95 -2.95h12.37v12.44h-12.37zM10.09 -2.95h12.37v12.44h-12.37zM-9.44 3.6h12.37v12.44h-12.37zM16.6 3.6h12.37v12.44h-12.37zM-2.93 10.14h12.37v12.44h-12.37zM23.11 10.14h12.37v12.44h-12.37zM3.58 16.69h12.37v12.44h-12.37zM29.62 16.69h12.37v12.44h-12.37zM-15.95 23.23h12.37v12.44h-12.37zM10.09 23.23h12.37v12.44h-12.37zM-9.44 29.78h12.37v12.44h-12.37zM16.6 29.78h12.37v12.44h-12.37z" fill="#000" fill-opacity="0.09"/>
<path d="M-1.3 -14.4h9.11v9.16h-9.11zM24.74 -14.4h9.11v9.16h-9.11zM5.21 -7.85h9.11v9.16h-9.11zM31.25 -7.85h9.11v9.16h-9.11zM-14.32 -1.31h9.11v9.16h-9.11zM11.72 -1.31h9.11v9.16h-9.11zM-7.81 5.24h9.11v9.16h-9.11zM18.23 5.24h9.11v9.16h-9.11zM-1.3 11.78h9.11v9.16h-9.11zM24.74 11.78h9.11v9.16h-9.11zM5.21 18.33h9.11v9.16h-9.11zM31.25 18.33h9.11v9.16h-9.11zM-14.32 24.87h9.11v9.16h-9.11zM11.72 24.87h9.11v9.16h-9.11zM-7.81 31.42h9.11v9.16h-9.11zM18.23 31.42h9.11v9.16h-9.11z" fill="#000" fill-opacity="0.2"/>
<path d="M0 -13.09h6.51v6.54h-6.51zM26.04 -13.09h6.51v6.54h-6.51zM6.51 -6.54h6.51v6.54h-6.51zM32.55 -6.54h6.51v6.54h-6.51zM-13.02 0h6.51v6.54h-6.51zM13.02 0h6.51v6.54h-6.51zM-6.51 6.54h6.51v6.54h-6.51zM19.53 6.54h6.51v6.54h-6.51zM0 13.09h6.51v6.54h-6.51zM26.04 13.09h6.51v6.54h-6.51zM6.51 19.63h6.51v6.54h-6.51zM32.55 19.63h6.51v6.54h-6.51zM-13.02 26.18h6.51v6.54h-6.51zM13.02 26.18h6.51v6.54h-6.51zM-6.51 32.73h6.51v6.54h-6.51zM19.53 32.73h6.51v6.54h-6.51z" fill="#000" fill-opacity="0.36"/>
<path d="M1.3 -11.78h3.91v3.93h-3.91zM27.34 -11.78h3.91v3.93h-3.91zM7.81 -5.24h3.91v3.93h-3.91zM33.85 -5.24h3.91v3.93h-3.91zM-11.72 1.31h3.91v3.93h-3.91zM14.32 1.31h3.91v3.93h-3.91zM-5.21 7.85h3.91v3.93h-3.91zM20.83 7.85h3.91v3.93h-3.91zM1.3 14.4h3.91v3.93h-3.91zM27.34 14.4h3.91v3.93h-3.91zM7.81 20.94h3.91v3.93h-3.91zM33.85 20.94h3.91v3.93h-3.91zM-11.72 27.49h3.91v3.93h-3.91zM14.32 27.49h3.91v3.93h-3.91zM-5.21 34.03h3.91v3.93h-3.91zM20.83 34.03h3.91v3.93h-3.91z" fill="#000" fill-opacity="0.5"/>
<path d="M2.28 -10.8h1.95v1.96h-1.95zM28.32 -10.8h1.95v1.96h-1.95zM8.79 -4.25h1.95v1.96h-1.95zM34.83 -4.25h1.95v1.96h-1.95zM-10.74 2.29h1.95v1.96h-1.95zM15.3 2.29h1.95v1.96h-1.95zM-4.23 8.84h1.95v1.96h-1.95zM21.81 8.84h1.95v1.96h-1.95zM2.28 15.38h1.95v1.96h-1.95zM28.32 15.38h1.95v1.96h-1.95zM8.79 21.93h1.95v1.96h-1.95zM34.83 21.93h1.95v1.96h-1.95zM-10.74 28.47h1.95v1.96h-1.95zM15.3 28.47h1.95v1.96h-1.95zM-4.23 35.02h1.95v1.96h-1.95zM21.81 35.02h1.95v1.96h-1.95z" fill="#000" fill-opacity="0.5"/>
</pattern>
<pattern id="b6" patternUnits="userSpaceOnUse" width="39.06" height="39.27" x="1.95" y="2">
<path d="M-9.44 -16.04h12.37v12.44h-12.37zM29.62 -16.04h12.37v12.44h-12.37zM-2.93 -9.49h12.37v12.44h-12.37zM36.13 -9.49h12.37v12.44h-12.37zM3.58 -2.95h12.37v12.44h-12.37zM42.64 -2.95h12.37v12.44h-12.37zM10.09 3.6h12.37v12.44h-12.37zM16.6 10.14h12.37v12.44h-12.37zM-15.95 16.69h12.37v12.44h-12.37zM23.11 16.69h12.37v12.44h-12.37zM-9.44 23.23h12.37v12.44h-12.37zM29.62 23.23h12.37v12.44h-12.37zM-2.93 29.78h12.37v12.44h-12.37zM36.13 29.78h12.37v12.44h-12.37zM3.58 36.32h12.37v12.44h-12.37zM42.64 36.32h12.37v12.44h-12.37zM10.09 42.87h12.37v12.44h-12.37z" fill="#000" fill-opacity="0.09"/>
<path d="M-7.81 -14.4h9.11v9.16h-9.11zM31.25 -14.4h9.11v9.16h-9.11zM-1.3 -7.85h9.11v9.16h-9.11zM37.76 -7.85h9.11v9.16h-9.11zM5.21 -1.31h9.11v9.16h-9.11zM44.27 -1.31h9.11v9.16h-9.11zM11.72 5.24h9.11v9.16h-9.11zM18.23 11.78h9.11v9.16h-9.11zM-14.32 18.33h9.11v9.16h-9.11zM24.74 18.33h9.11v9.16h-9.11zM-7.81 24.87h9.11v9.16h-9.11zM31.25 24.87h9.11v9.16h-9.11zM-1.3 31.42h9.11v9.16h-9.11zM37.76 31.42h9.11v9.16h-9.11zM5.21 37.96h9.11v9.16h-9.11zM44.27 37.96h9.11v9.16h-9.11zM11.72 44.51h9.11v9.16h-9.11z" fill="#000" fill-opacity="0.2"/>
<path d="M-6.51 -13.09h6.51v6.54h-6.51zM32.55 -13.09h6.51v6.54h-6.51zM0 -6.54h6.51v6.54h-6.51zM39.06 -6.54h6.51v6.54h-6.51zM6.51 0h6.51v6.54h-6.51zM45.57 0h6.51v6.54h-6.51zM13.02 6.54h6.51v6.54h-6.51zM19.53 13.09h6.51v6.54h-6.51zM-13.02 19.63h6.51v6.54h-6.51zM26.04 19.63h6.51v6.54h-6.51zM-6.51 26.18h6.51v6.54h-6.51zM32.55 26.18h6.51v6.54h-6.51zM0 32.73h6.51v6.54h-6.51zM39.06 32.73h6.51v6.54h-6.51zM6.51 39.27h6.51v6.54h-6.51zM45.57 39.27h6.51v6.54h-6.51zM13.02 45.81h6.51v6.54h-6.51z" fill="#000" fill-opacity="0.36"/>
<path d="M-5.21 -11.78h3.91v3.93h-3.91zM33.85 -11.78h3.91v3.93h-3.91zM1.3 -5.24h3.91v3.93h-3.91zM40.36 -5.24h3.91v3.93h-3.91zM7.81 1.31h3.91v3.93h-3.91zM46.87 1.31h3.91v3.93h-3.91zM14.32 7.85h3.91v3.93h-3.91zM20.83 14.4h3.91v3.93h-3.91zM-11.72 20.94h3.91v3.93h-3.91zM27.34 20.94h3.91v3.93h-3.91zM-5.21 27.49h3.91v3.93h-3.91zM33.85 27.49h3.91v3.93h-3.91zM1.3 34.03h3.91v3.93h-3.91zM40.36 34.03h3.91v3.93h-3.91zM7.81 40.58h3.91v3.93h-3.91zM46.87 40.58h3.91v3.93h-3.91zM14.32 47.12h3.91v3.93h-3.91z" fill="#000" fill-opacity="0.5"/>
<path d="M-4.23 -10.8h1.95v1.96h-1.95zM34.83 -10.8h1.95v1.96h-1.95zM2.28 -4.25h1.95v1.96h-1.95zM41.34 -4.25h1.95v1.96h-1.95zM8.79 2.29h1.95v1.96h-1.95zM47.85 2.29h1.95v1.96h-1.95zM15.3 8.84h1.95v1.96h-1.95zM21.81 15.38h1.95v1.96h-1.95zM-10.74 21.93h1.95v1.96h-1.95zM28.32 21.93h1.95v1.96h-1.95zM-4.23 28.47h1.95v1.96h-1.95zM34.83 28.47h1.95v1.96h-1.95zM2.28 35.02h1.95v1.96h-1.95zM41.34 35.02h1.95v1.96h-1.95zM8.79 41.56h1.95v1.96h-1.95zM47.85 41.56h1.95v1.96h-1.95zM15.3 48.11h1.95v1.96h-1.95z" fill="#000" fill-opacity="0.5"/>
</pattern>
<clipPath id="c1b"><path d="M-6.7 -67H46.9V-7.91H24.92V3.35H15.54V-7.91H-6.7z"/></clipPath>
<clipPath id="c1r"><path d="M-7.2 -72H93.6V7.2H37.44V-6.34H24.62V3.6H18V-6.34H-7.2z"/></clipPath>
</defs>
<rect width="2246" height="1728" fill="#fff"/>
<g filter="url(#soft)" stroke="#707070" stroke-width="4.8" fill="none">
<path d="M476.8 1163.5H520.8M498.8 1163.5V1196"/>
<path d="M568.2 571.5H612.2M590.2 571.5V673M568.2 673H612.2"/>
<path d="M661.2 657.9H705.2M683.2 657.9V804M661.2 804H705.2"/>
<path d="M760.1 754.6H804.1M782.1 754.6V818.5M760.1 818.5H804.1"/>
<path d="M854.7 694.8H898.7M876.7 694.8V798M854.7 798H898.7"/>
<path d="M946.3 1139.4H990.3M968.3 1139.4V1194M946.3 1194H990.3"/>
<path d="M1033.2 1131.3H1077.2M1055.2 1131.3V1193.3M1033.2 1193.3H1077.2"/>
<path d="M1128 1143.3H1172M1150 1143.3V1197M1128 1197H1172"/>
<path d="M1403.6 894.4H1447.6M1425.6 894.4V928"/>
<path d="M1495.7 207.7H1539.7M1517.7 207.7V332M1495.7 332H1539.7"/>
<path d="M1585.7 228.8H1629.7M1607.7 228.8V333M1585.7 333H1629.7"/>
<path d="M1679 297.4H1723M1701 297.4V447.7M1679 447.7H1723"/>
<path d="M1770.3 230.4H1814.3M1792.3 230.4V448M1770.3 448H1814.3"/>
<path d="M1871 812.9H1915M1893 812.9V917M1871 917H1915"/>
<path d="M1961.5 829.2H2005.5M1983.5 829.2V914M1961.5 914H2005.5"/>
<path d="M2047.6 820.6H2091.6M2069.6 820.6V941M2047.6 941H2091.6"/>
</g>
<g filter="url(#softp)" stroke="#444" stroke-width="4.2" fill="none">
<path d="M682.8 739V1432.6" stroke-dasharray="17 9"/>
<path d="M1791 347.4V1432.6" stroke-dasharray="17 9"/>
<path d="M864 757h9M864 959.5h9M864 1162h9M864 1364.6h9M1606.3 496h9M1606.3 698.8h9M1606.3 901.3h9M1606.3 1104h9M1606.3 1306.6h9"/>
</g>
<g filter="url(#softp)">
<rect x="546" y="632.5" width="90.3" height="800.1" fill="url(#f4)"/>
<rect x="636.3" y="731" width="98.3" height="701.6" fill="url(#f25)"/>
<rect x="734.6" y="790.2" width="91.4" height="642.4" fill="url(#f6)"/>
<rect x="826" y="749.7" width="92" height="682.9" fill="url(#b3)"/>
<rect x="918" y="1169.6" width="91" height="263" fill="url(#b4)"/>
<rect x="1009" y="1163" width="90.7" height="269.6" fill="url(#b6)"/>
<rect x="1099.7" y="1176" width="92.3" height="256.6" fill="url(#f4)"/>
<rect x="1470" y="272" width="92" height="1160.6" fill="url(#f4)"/>
<rect x="1562" y="286.3" width="92" height="1146.3" fill="url(#f25)"/>
<rect x="1654" y="378" width="90.4" height="1054.6" fill="url(#f6)"/>
<rect x="1744.4" y="339.4" width="98" height="1093.2" fill="url(#b3)"/>
<rect x="1842.4" y="868.5" width="91.4" height="564.1" fill="url(#b4)"/>
<rect x="1933.8" y="874.8" width="90.4" height="557.8" fill="url(#b6)"/>
<rect x="2024.2" y="881.5" width="92" height="551.1" fill="url(#f4)"/>
</g>
<rect x="724.4" y="731" width="10.2" height="701.6" fill="#fff" filter="url(#softp)"/>
<rect x="1832.2" y="339.4" width="10.2" height="1093.2" fill="#fff" filter="url(#softp)"/>
<g filter="url(#soft)" fill="none" stroke="#000">
<path d="M546 1432.6V632.5H636.3V1432.6M636.3 1432.6V731H734.6V1432.6M734.6 1432.6V790.2H826V1432.6M826 1432.6V749.7H918V1432.6M918 1432.6V1169.6H1009V1432.6M1009 1432.6V1163H1099.7V1432.6M1099.7 1432.6V1176H1192V1432.6M1470 1432.6V272H1562V1432.6M1562 1432.6V286.3H1654V1432.6M1654 1432.6V378H1744.4V1432.6M1744.4 1432.6V339.4H1842.4V1432.6M1842.4 1432.6V868.5H1933.8V1432.6M1933.8 1432.6V874.8H2024.2V1432.6M2024.2 1432.6V881.5H2116.2V1432.6M363.8 65V1435.6M333.5 1432.6H2203.2M333.5 64.3H363.8M333.5 333H363.8M333.5 607.9H363.8M333.5 882.6H363.8M333.5 1156.8H363.8M347.5 201H363.8M347.5 470H363.8M347.5 745H363.8M347.5 1019.5H363.8M347.5 1294.5H363.8" stroke-width="9" stroke-opacity="0.4"/>
<path d="M546 1432.6V632.5H636.3V1432.6M636.3 1432.6V731H734.6V1432.6M734.6 1432.6V790.2H826V1432.6M826 1432.6V749.7H918V1432.6M918 1432.6V1169.6H1009V1432.6M1009 1432.6V1163H1099.7V1432.6M1099.7 1432.6V1176H1192V1432.6M1470 1432.6V272H1562V1432.6M1562 1432.6V286.3H1654V1432.6M1654 1432.6V378H1744.4V1432.6M1744.4 1432.6V339.4H1842.4V1432.6M1842.4 1432.6V868.5H1933.8V1432.6M1933.8 1432.6V874.8H2024.2V1432.6M2024.2 1432.6V881.5H2116.2V1432.6M363.8 65V1435.6M333.5 1432.6H2203.2M333.5 64.3H363.8M333.5 333H363.8M333.5 607.9H363.8M333.5 882.6H363.8M333.5 1156.8H363.8M347.5 201H363.8M347.5 470H363.8M347.5 745H363.8M347.5 1019.5H363.8M347.5 1294.5H363.8" stroke-width="4.6" stroke-opacity="0.9"/>
<rect x="451.5" y="1193.2" width="96.5" height="239.4" fill="#000" stroke="none"/>
<rect x="1375.6" y="925.2" width="96.4" height="507.4" fill="#000" stroke="none"/>
</g>
<g filter="url(#softt)">
<text class="tk" transform="translate(216.39 86.45) scale(1 1.04)">50</text>
<text class="tk" transform="translate(215.99 360.25) scale(1 1.04)">40</text>
<text class="tk" transform="translate(216.39 632.6) scale(1 1.04)">30</text>
<text class="tk" transform="translate(215.99 908.2) scale(1 1.04)">20</text>
<text class="tk" clip-path="url(#c1r)" transform="translate(216.69 1179.8) scale(1 1.04)">1<tspan dx="-2.3">0</tspan></text>
<text class="tk" transform="translate(254.44 1455.6) scale(1 1.04)">0</text>
<text class="lb" transform="translate(476.48 1138.45) scale(0.86 0.97)">a</text>
<text class="lb" clip-path="url(#c1b)" transform="translate(566.41 535.4) scale(0.96 1.03)">1</text>
<text class="lb" transform="translate(665.71 620) scale(0.96 1.03)">2</text>
<text class="lb" transform="translate(766.45 706.01) scale(0.96 1.03)">3</text>
<text class="lb" transform="translate(851.83 659.5) scale(0.96 1.03)">4</text>
<text class="lb" transform="translate(949.34 1106.41) scale(0.96 1.03)">5</text>
<text class="lb" transform="translate(1037.72 1104.71) scale(0.96 1.03)">6</text>
<text class="lb" transform="translate(1136.4 1113.1) scale(0.96 1.03)">7</text>
<text class="lb" transform="translate(1405.13 862.65) scale(0.86 0.97)">a</text>
<text class="lb" clip-path="url(#c1b)" transform="translate(1497.36 157.7) scale(0.96 1.03)">1</text>
<text class="lb" transform="translate(1585.61 173.1) scale(0.96 1.03)">2</text>
<text class="lb" transform="translate(1683.5 250.51) scale(0.96 1.03)">3</text>
<text class="lb" transform="translate(1772.68 202.2) scale(0.96 1.03)">4</text>
<text class="lb" transform="translate(1876.04 780.51) scale(0.96 1.03)">5</text>
<text class="lb" transform="translate(1966.92 793.01) scale(0.96 1.03)">6</text>
<text class="lb" transform="translate(2053.6 790.7) scale(0.96 1.03)">7</text>
<text class="ct" transform="translate(700.4 1535.4) scale(1 1.04)">2<tspan dx="4.7">3</tspan> <tspan class="dg" dx="-1.8" dy="9">°</tspan><tspan dx="-2.6" dy="-9">C</tspan></text>
<text class="ct" transform="translate(1682.2 1535.4) scale(1 1.04)">4<tspan dx="3.3">0</tspan> <tspan class="dg" dx="-1.8" dy="9">°</tspan><tspan dx="-1" dy="-9">C</tspan></text>
<text class="ti" transform="translate(1057 1683.3) scale(1 1.04)">Temperature</text>
<text class="ti" transform="translate(138.8 1038.5) rotate(-90) scale(1 1.04)">% Conversion VA</text>
</g>
</svg>
</body></html>
